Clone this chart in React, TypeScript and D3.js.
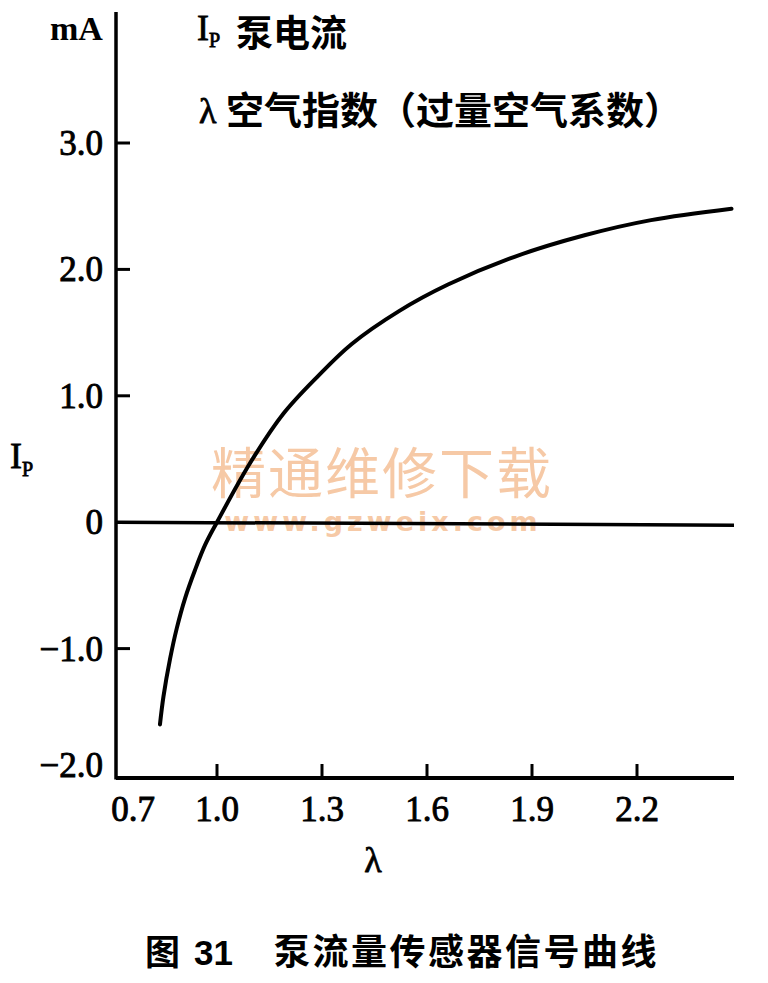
import React from "react";
import * as d3 from "d3";

const lambdaVals = [0.837, 0.847, 0.866, 0.885, 0.909, 0.937, 0.966, 1.0, 1.095, 1.19, 1.29, 1.385, 1.52, 1.66, 1.85, 2.05, 2.24, 2.47];
const ipVals = [-1.6, -1.38, -1.08, -0.84, -0.6, -0.38, -0.18, 0.0, 0.47, 0.86, 1.16, 1.41, 1.67, 1.88, 2.1, 2.27, 2.39, 2.48];
const xTicks = [1.0, 1.3, 1.6, 1.9, 2.2];
const xFirstLabel = "0.7";
const yTicks = [3, 2, 1, 0, -1, -2];
const yTickLabels = ["3.0", "2.0", "1.0", "0", "\u22121.0", "\u22122.0"];

const W = 768;
const H = 983;
const SERIF = "'Liberation Serif', 'DejaVu Serif', serif";
const CJK = "'Noto Sans CJK SC', 'Noto Sans', sans-serif";

export default function App() {
  const x = d3.scaleLinear().domain([1.0, 2.2]).range([217, 637]);
  const y = d3.scaleLinear().domain([-2, 3]).range([775, 143]);
  const axisX = 116;
  const axisY = 778;
  const xEnd = 734;

  const pts = lambdaVals.map((l, i) => [l, ipVals[i]] as [number, number]);
  const line = d3
    .line<[number, number]>()
    .x((d) => x(d[0]))
    .y((d) => y(d[1]))
    .curve(d3.curveCatmullRom.alpha(0.5));

  const numStyle = { fontFamily: SERIF, fontSize: 35, fill: "#000", stroke: "#000", strokeWidth: 0.9 };

  return (
    <div style={{ position: "absolute", left: 0, top: 0, width: W, height: H, background: "#fff" }}>
      <svg width={W} height={H} viewBox={`0 0 ${W} ${H}`}>
        <rect width={W} height={H} fill="#fff" />
        {/* watermark */}
        <text x={382} y={493} textAnchor="middle" fontFamily={CJK} fontSize={55} fill="#f6c9a6" letterSpacing={2}>
          精通维修下载
        </text>
        <text x={383} y={531} textAnchor="middle" fontFamily="'DejaVu Sans', sans-serif" fontWeight="bold" fontSize={27} fill="#f6c9a6" letterSpacing={4}>
          www.gzweix.com
        </text>

        {/* zero line */}
        <line x1={axisX} x2={xEnd} y1={y(0)} y2={y(0) + 3} stroke="#000" strokeWidth={3.5} />

        {/* y axis */}
        <line x1={axisX} x2={axisX} y1={12} y2={axisY + 1.5} stroke="#000" strokeWidth={3.5} />
        {/* x axis */}
        <line x1={axisX} x2={xEnd} y1={axisY} y2={axisY} stroke="#000" strokeWidth={4} />

        {/* y ticks */}
        {yTicks.map((t, i) => (
          <g key={"yt" + i}>
            {t !== 0 && t !== -2 && (
              <line x1={axisX} x2={axisX + 14} y1={y(t)} y2={y(t)} stroke="#000" strokeWidth={3} />
            )}
            <text x={103} y={(t === -2 ? y(t) - 10 : y(t)) + 12} textAnchor="end" {...numStyle}>
              {yTickLabels[i]}
            </text>
          </g>
        ))}

        {/* x ticks */}
        {xTicks.map((t, i) => (
          <g key={"xt" + i}>
            <line x1={x(t)} x2={x(t)} y1={axisY} y2={axisY - 14} stroke="#000" strokeWidth={3} />
            <text x={x(t)} y={821} textAnchor="middle" {...numStyle}>
              {t.toFixed(1)}
            </text>
          </g>
        ))}
        <text x={133} y={821} textAnchor="middle" {...numStyle}>
          {xFirstLabel}
        </text>

        {/* curve */}
        <path d={line(pts) || ""} fill="none" stroke="#000" strokeWidth={4} strokeLinecap="round" />

        {/* unit */}
        <text x={50} y={40} fontFamily={SERIF} fontWeight="bold" fontSize={34} fill="#000">
          mA
        </text>

        {/* y label */}
        <text x={10} y={468} fontFamily={SERIF} fontSize={36} fill="#000" stroke="#000" strokeWidth={0.8}>
          I
          <tspan fontSize={20} dy={8}>P</tspan>
        </text>

        {/* x label */}
        <text x={373} y={872} textAnchor="middle" fontFamily={SERIF} fontSize={36} fill="#000" stroke="#000" strokeWidth={0.8}>
          λ
        </text>

        {/* header notes */}
        <text x={197} y={40} fontFamily={SERIF} fontSize={36} fill="#000" stroke="#000" strokeWidth={0.8}>
          I
          <tspan fontSize={20} dy={7}>P</tspan>
        </text>
        <text x={236} y={47} fontFamily={CJK} fontSize={37} fontWeight={700} fill="#000">
          泵电流
        </text>
        <text x={199} y={123} fontFamily={SERIF} fontSize={36} fill="#000" stroke="#000" strokeWidth={0.8}>
          λ
        </text>
        <text x={226} y={124} fontFamily={CJK} fontSize={38} fontWeight={700} fill="#000">
          空气指数（过量空气系数）
        </text>

        {/* caption */}
        <text x={145} y={965} fontFamily={CJK} fontSize={35} fontWeight="bold" fill="#000">
          图
        </text>
        <text x={194} y={965} fontFamily="'Liberation Sans', 'DejaVu Sans', sans-serif" fontSize={35} fontWeight="bold" fill="#000">
          31
        </text>
        <text x={274} y={965} fontFamily={CJK} fontSize={36} fontWeight="bold" fill="#000" letterSpacing={2.5}>
          泵流量传感器信号曲线
        </text>
      </svg>
    </div>
  );
}
